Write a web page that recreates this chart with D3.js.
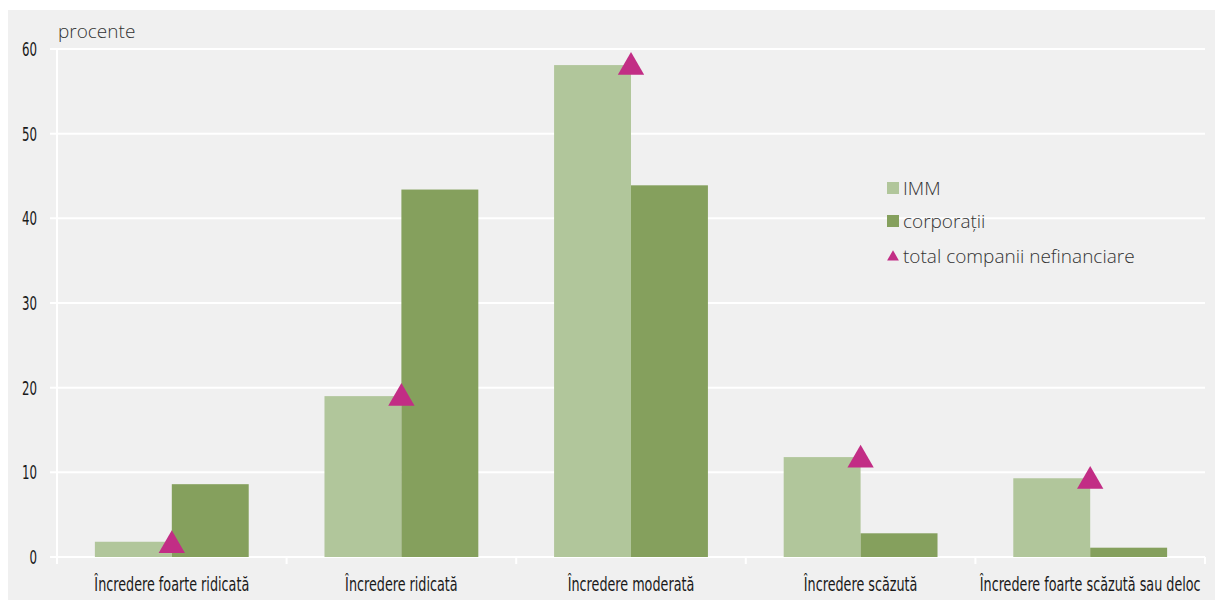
<!DOCTYPE html>
<html>
<head>
<meta charset="utf-8">
<script src="https://cdn.jsdelivr.net/npm/d3@7"></script>
<style>
  body { margin: 0; background: #fff; }
  svg { display: block; }
</style>
</head>
<body>
<div id="chart"></div>
<script>
// data
const categories = ['Încredere foarte ridicată', 'Încredere ridicată', 'Încredere moderată', 'Încredere scăzută', 'Încredere foarte scăzută sau deloc'];
const imm = [1.8, 19.0, 58.1, 11.8, 9.3];
const corporatii = [8.6, 43.4, 43.9, 2.8, 1.1];
const total = [1.6, 19.0, 58.1, 11.7, 9.2];
const yTicks = [0, 10, 20, 30, 40, 50, 60];
const seriesNames = ['IMM', 'corporații', 'total companii nefinanciare'];

const W = 1215, H = 601;
const colors = { imm: '#b1c69b', corp: '#85a05d', total: '#c22d85' };
const margin = { left: 57, right: 10, top: 49, bottom: 44 };
const condensedFont = '"DejaVu Sans Condensed", "DejaVu Sans", sans-serif';
const lightFont = '"Open Sans", sans-serif';

const svg = d3.select('#chart').append('svg')
    .attr('width', W)
    .attr('height', H);

// grey panel
svg.append('rect')
    .attr('x', 8).attr('y', 10)
    .attr('width', W - 8).attr('height', H - 11)
    .attr('fill', '#f0f0f0');

const x = d3.scaleBand()
    .domain(categories)
    .range([margin.left, W - margin.right])
    .paddingInner(0)
    .paddingOuter(0);

const y = d3.scaleLinear()
    .domain([0, 60])
    .range([H - margin.bottom, margin.top]);

const bw = x.bandwidth() * 0.335;

// gridlines
svg.append('g')
    .selectAll('line')
    .data(yTicks)
    .enter().append('line')
    .attr('x1', margin.left - 7)
    .attr('x2', W - margin.right)
    .attr('y1', d => y(d))
    .attr('y2', d => y(d))
    .attr('stroke', '#fff')
    .attr('stroke-width', 2);

// y axis line
svg.append('line')
    .attr('x1', margin.left).attr('x2', margin.left)
    .attr('y1', y(60)).attr('y2', y(0) + 7)
    .attr('stroke', '#fff').attr('stroke-width', 2);

// category boundary ticks
svg.append('g')
    .selectAll('line')
    .data(categories)
    .enter().append('line')
    .attr('x1', d => x(d) + x.bandwidth())
    .attr('x2', d => x(d) + x.bandwidth())
    .attr('y1', y(0))
    .attr('y2', y(0) + 7)
    .attr('stroke', '#fff')
    .attr('stroke-width', 2);

// y tick labels (squeezed horizontally to look like a condensed face)
const yLabels = svg.append('g')
    .selectAll('text')
    .data(yTicks)
    .enter().append('text')
    .attr('x', 0)
    .attr('y', 0)
    .attr('dy', '0.36em')
    .attr('text-anchor', 'end')
    .attr('font-family', condensedFont)
    .attr('font-size', '19px')
    .attr('fill', '#1a1a1a')
    .text(d => d);
const yFactor = 15 / yLabels.filter(d => d === 60).node().getComputedTextLength();
yLabels.attr('transform', d => `translate(37,${y(d)}) scale(${yFactor},1)`);

svg.append('text')
    .attr('x', 58)
    .attr('y', 38)
    .attr('font-family', lightFont)
    .attr('font-weight', 300)
    .attr('font-size', '19px')
    .attr('fill', '#333')
    .text('procente');

// bars
const cell = svg.selectAll('.cat')
    .data(categories)
    .enter().append('g')
    .attr('class', 'cat');

cell.append('rect')
    .attr('x', d => x(d) + x.bandwidth() / 2 - bw)
    .attr('y', (d, i) => y(imm[i]))
    .attr('width', bw)
    .attr('height', (d, i) => y(0) - y(imm[i]))
    .attr('fill', colors.imm);

cell.append('rect')
    .attr('x', d => x(d) + x.bandwidth() / 2)
    .attr('y', (d, i) => y(corporatii[i]))
    .attr('width', bw)
    .attr('height', (d, i) => y(0) - y(corporatii[i]))
    .attr('fill', colors.corp);

// total markers
const tri = d3.symbol().type(d3.symbolTriangle).size(300);
cell.append('path')
    .attr('d', tri)
    .attr('transform', (d, i) => `translate(${x(d) + x.bandwidth() / 2},${y(total[i]) + 2})`)
    .attr('fill', colors.total);

// x labels
const xLabels = svg.append('g')
    .selectAll('text')
    .data(categories)
    .enter().append('text')
    .attr('x', 0)
    .attr('y', 0)
    .attr('text-anchor', 'middle')
    .attr('font-family', condensedFont)
    .attr('font-size', '20px')
    .attr('fill', '#1a1a1a')
    .text(d => d);
// first label is ~155px wide in the reference
const xFactor = 155 / xLabels.node().getComputedTextLength();
xLabels.attr('transform', d => `translate(${x(d) + x.bandwidth() / 2},591) scale(${xFactor},1)`);

// legend
const legend = svg.append('g').attr('transform', 'translate(887,0)');
const legY = [188, 221, 256];
seriesNames.forEach((name, i) => {
    if (i < 2) {
        legend.append('rect')
            .attr('x', 0).attr('y', legY[i] - 6)
            .attr('width', 12).attr('height', 12)
            .attr('fill', i === 0 ? colors.imm : colors.corp);
    } else {
        legend.append('path')
            .attr('d', d3.symbol().type(d3.symbolTriangle).size(60))
            .attr('transform', `translate(6,${legY[i] + 1})`)
            .attr('fill', colors.total);
    }
    legend.append('text')
        .attr('x', 16)
        .attr('y', legY[i])
        .attr('dy', '0.36em')
        .attr('font-family', lightFont)
        .attr('font-weight', 300)
        .attr('font-size', '19px')
        .attr('fill', '#333')
        .text(name);
});
</script>
</body>
</html>
